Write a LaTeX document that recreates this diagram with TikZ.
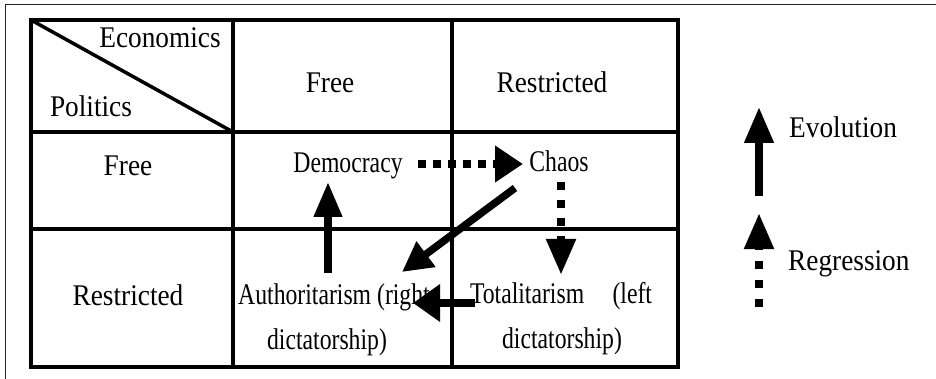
\documentclass[tikz,border=0pt]{standalone}
\usepackage{fontspec}
\setmainfont{Liberation Serif}
\newfontfamily\hdfont[FakeStretch=0.91]{Liberation Serif}
\newfontfamily\cellfont[FakeStretch=0.79]{Liberation Serif}
\usetikzlibrary{arrows.meta}
\begin{document}
\begin{tikzpicture}[x=1pt,y=-1pt,
  grid/.style={line width=4pt},
  frame/.style={line width=1.6pt,draw=black!85},
  hd/.style={inner sep=0pt,font=\hdfont\fontsize{30}{36}\selectfont},
  cell/.style={inner sep=0pt,font=\cellfont\fontsize{30}{36}\selectfont},
  evo/.style={line width=7.5pt},
  regress/.style={line width=8pt},
]
\useasboundingbox (0,0) rectangle (936,379);
% outer frame (top and left edges visible)
\draw[frame] (5.5,379) -- (5.5,4.5) -- (936,4.5);
% table grid
\draw[grid] (31,20) rectangle (678,367);
\draw[grid] (233,20) -- (233,367);
\draw[grid] (452,20) -- (452,367);
\draw[grid] (31,132) -- (678,132);
\draw[grid] (31,229.5) -- (678,229.5);
\draw[line width=3.5pt] (31,20) -- (233,132);
% headers
\node[hd,anchor=base] (econ) at (160,48) {Economics};
\node[hd,anchor=base] (pol) at (91,117) {Politics};
\node[hd,anchor=base] (efree) at (330,93) {Free};
\node[hd,anchor=base] (erestr) at (552,93) {Restricted};
\node[hd,anchor=base] (pfree) at (128,176) {Free};
\node[hd,anchor=base] (prestr) at (128,305) {Restricted};
% cells
\node[cell,anchor=base] (demo) at (348,173) {Democracy};
\node[cell,anchor=base] (chaos) at (559,172) {Chaos};
\node[cell,anchor=base west] (auth) at (238,304) {Authoritarism (right};
\node[cell,anchor=base] (auth2) at (327,349) {dictatorship)};
\node[cell,anchor=base] (tot) at (561,303) {\makebox[182pt][s]{Totalitarism (left}};
\node[cell,anchor=base] (tot2) at (562,348) {dictatorship)};
% legend
\node[hd,anchor=base west] (evol) at (789,138) {Evolution};
\node[hd,anchor=base west] (regr) at (788,270) {Regression};
% connector end points
\coordinate (demo-out) at (418,164);
\coordinate (chaos-in) at (523,164);
\coordinate (chaos-down) at (561,182);
\coordinate (tot-in) at (561,275);
\coordinate (chaos-diag) at (515,188);
\coordinate (auth-in) at (402,272);
\coordinate (tot-out) at (475,303);
\coordinate (auth-right) at (413,303);
\coordinate (auth-up) at (328,273);
\coordinate (demo-in) at (328,182);
\coordinate (evo-a) at (759,196);
\coordinate (evo-b) at (759,107);
\coordinate (reg-a) at (759,307);
\coordinate (reg-b) at (759,213);
% connectors
\draw[regress,dash pattern=on 8pt off 7pt,-{Triangle[length=28pt,width=35pt]}] (demo-out) -- (chaos-in);
\draw[regress,dash pattern=on 8.5pt off 9.5pt,-{Triangle[length=36pt,width=28pt]}] (chaos-down) -- (tot-in);
\draw[evo,-{Triangle[length=30pt,width=30pt]}] (chaos-diag) -- (auth-in);
\draw[evo,-{Triangle[length=27pt,width=36pt]}] (tot-out) -- (auth-right);
\draw[evo,-{Triangle[length=35pt,width=27pt]}] (auth-up) -- (demo-in);
\draw[evo,-{Triangle[length=36pt,width=28pt]}] (evo-a) -- (evo-b);
\draw[regress,dash pattern=on 8pt off 11pt,-{Triangle[length=36pt,width=28pt]}] (reg-a) -- (reg-b);
\end{tikzpicture}
\end{document}
